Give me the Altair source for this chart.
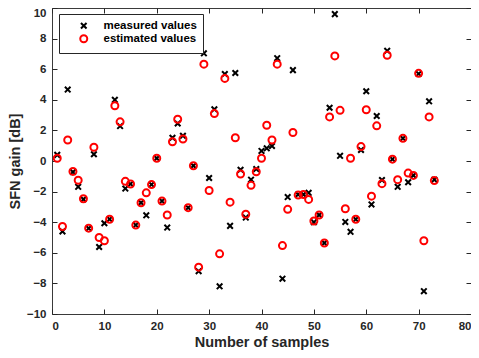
import altair as alt
import pandas as pd

samples = list(range(1, 74))
measured = [0.40, -4.60, 4.67, -0.72, -1.69, -2.50, -4.40, 0.44, -5.62, -4.07,
            -3.80, 4.00, 2.28, -1.80, -1.50, -4.19, -2.73, -3.55, -1.54, 0.18,
            -2.62, -4.35, 1.52, 2.45, 1.65, -3.05, -0.31, -7.20, 7.04, -1.11,
            3.38, -8.19, 5.68, -4.24, 5.75, -0.57, -3.70, -1.22, -0.53, 0.66,
            0.83, 0.98, 6.72, -7.69, -2.36, 5.94, -2.19, -2.19, -2.08, -4.00,
            -3.53, -5.36, 3.48, 9.60, 0.34, -3.98, -4.63, -3.81, 0.72, 4.56,
            -2.84, 2.94, -1.24, 7.20, 0.12, -1.69, 1.48, -1.39, -0.94, 5.70,
            -8.51, 3.90, -1.22]
estimated = [0.18, -4.28, 1.37, -0.68, -1.26, -2.47, -4.39, 0.90, -5.00, -5.21,
             -3.81, 3.61, 2.56, -1.33, -1.50, -4.19, -2.73, -2.08, -1.54, 0.18,
             -2.62, -3.53, 1.26, 2.73, 1.44, -3.05, -0.31, -6.94, 6.33, -1.93,
             3.10, -6.07, 5.40, -2.69, 1.52, -0.85, -3.48, -1.59, -0.70, 0.18,
             2.34, 1.37, 6.33, -5.53, -3.16, 1.86, -2.23, -2.19, -2.51, -3.92,
             -3.53, -5.36, 2.88, 6.87, 3.31, -3.12, 0.18, -3.81, 0.94, 3.35,
             -2.30, 2.30, -1.48, 6.91, 0.12, -1.22, 1.48, -0.79, -0.94, 5.73,
             -5.21, 2.88, -1.28]
series_names = ["measured values", "estimated values"]
series_colors = ["#000000", "#ff0000"]
x_ticks = list(range(0, 81, 10))
y_ticks = list(range(-10, 11, 2))

n = len(samples)
df = pd.DataFrame({
    "sample": samples + samples,
    "gain": measured + estimated,
    "series": [series_names[0]] * n + [series_names[1]] * n,
    "layer": [0] * n + [1] * n,
})

x_path = "M-0.8,-0.8L0.8,0.8M-0.8,0.8L0.8,-0.8"
x_scale = alt.Scale(domain=[0, 80], nice=False, zero=False)
y_scale = alt.Scale(domain=[-10, 10], nice=False, zero=False)

legend = alt.Legend(
    title=None, orient="none", legendX=7, legendY=6,
    strokeColor="#262626", fillColor="white", padding=6,
    symbolOffset=13, labelOffset=14, rowPadding=-3,
    labelFont="Liberation Sans", labelFontSize=11.5, labelFontWeight="bold",
    labelColor="#000000", symbolStrokeWidth=2, symbolSize=49,
)

pts = alt.Chart(df).mark_point(filled=False, strokeWidth=2, size=49, opacity=1).encode(
    x=alt.X("sample:Q", scale=x_scale,
            axis=alt.Axis(values=x_ticks, title="Number of samples", labelPadding=6,
                          titlePadding=4)),
    y=alt.Y("gain:Q", scale=y_scale,
            axis=alt.Axis(values=y_ticks, title="SFN gain [dB]", labelPadding=6,
                          titlePadding=4,
                          labelOffset=alt.condition("datum.value == 10", alt.value(5), alt.value(0)))),
    color=alt.Color("series:N", scale=alt.Scale(domain=series_names, range=series_colors),
                    legend=legend),
    shape=alt.Shape("series:N", scale=alt.Scale(domain=series_names, range=[x_path, "circle"]),
                    legend=legend),
    order=alt.Order("layer:Q"),
)

frame = alt.Chart(df).mark_point(opacity=0).encode(
    x=alt.X("sample:Q", scale=x_scale,
            axis=alt.Axis(orient="top", values=x_ticks, labels=False, title=None)),
    y=alt.Y("gain:Q", scale=y_scale,
            axis=alt.Axis(orient="right", values=y_ticks, labels=False, title=None)),
)

chart = alt.layer(pts, frame).resolve_axis(
    x="independent", y="independent"
).properties(
    width=419, height=306,
    autosize=alt.AutoSizeParams(type="none"),
    padding={"left": 44, "top": 0, "right": 0, "bottom": 36},
).configure_view(
    stroke="#3a3a3a", strokeWidth=1
).configure_axis(
    domain=False, grid=False, offset=-5, tickSize=5, tickColor="#262626", tickWidth=1,
    labelFont="Liberation Sans", labelFontSize=11.5, labelFontWeight="bold",
    labelColor="#262626", titleFont="Liberation Sans", titleFontSize=14.5,
    titleFontWeight="bold", titleColor="#262626",
)

chart.save("out.html", embed_options={"renderer": "svg", "actions": False})
